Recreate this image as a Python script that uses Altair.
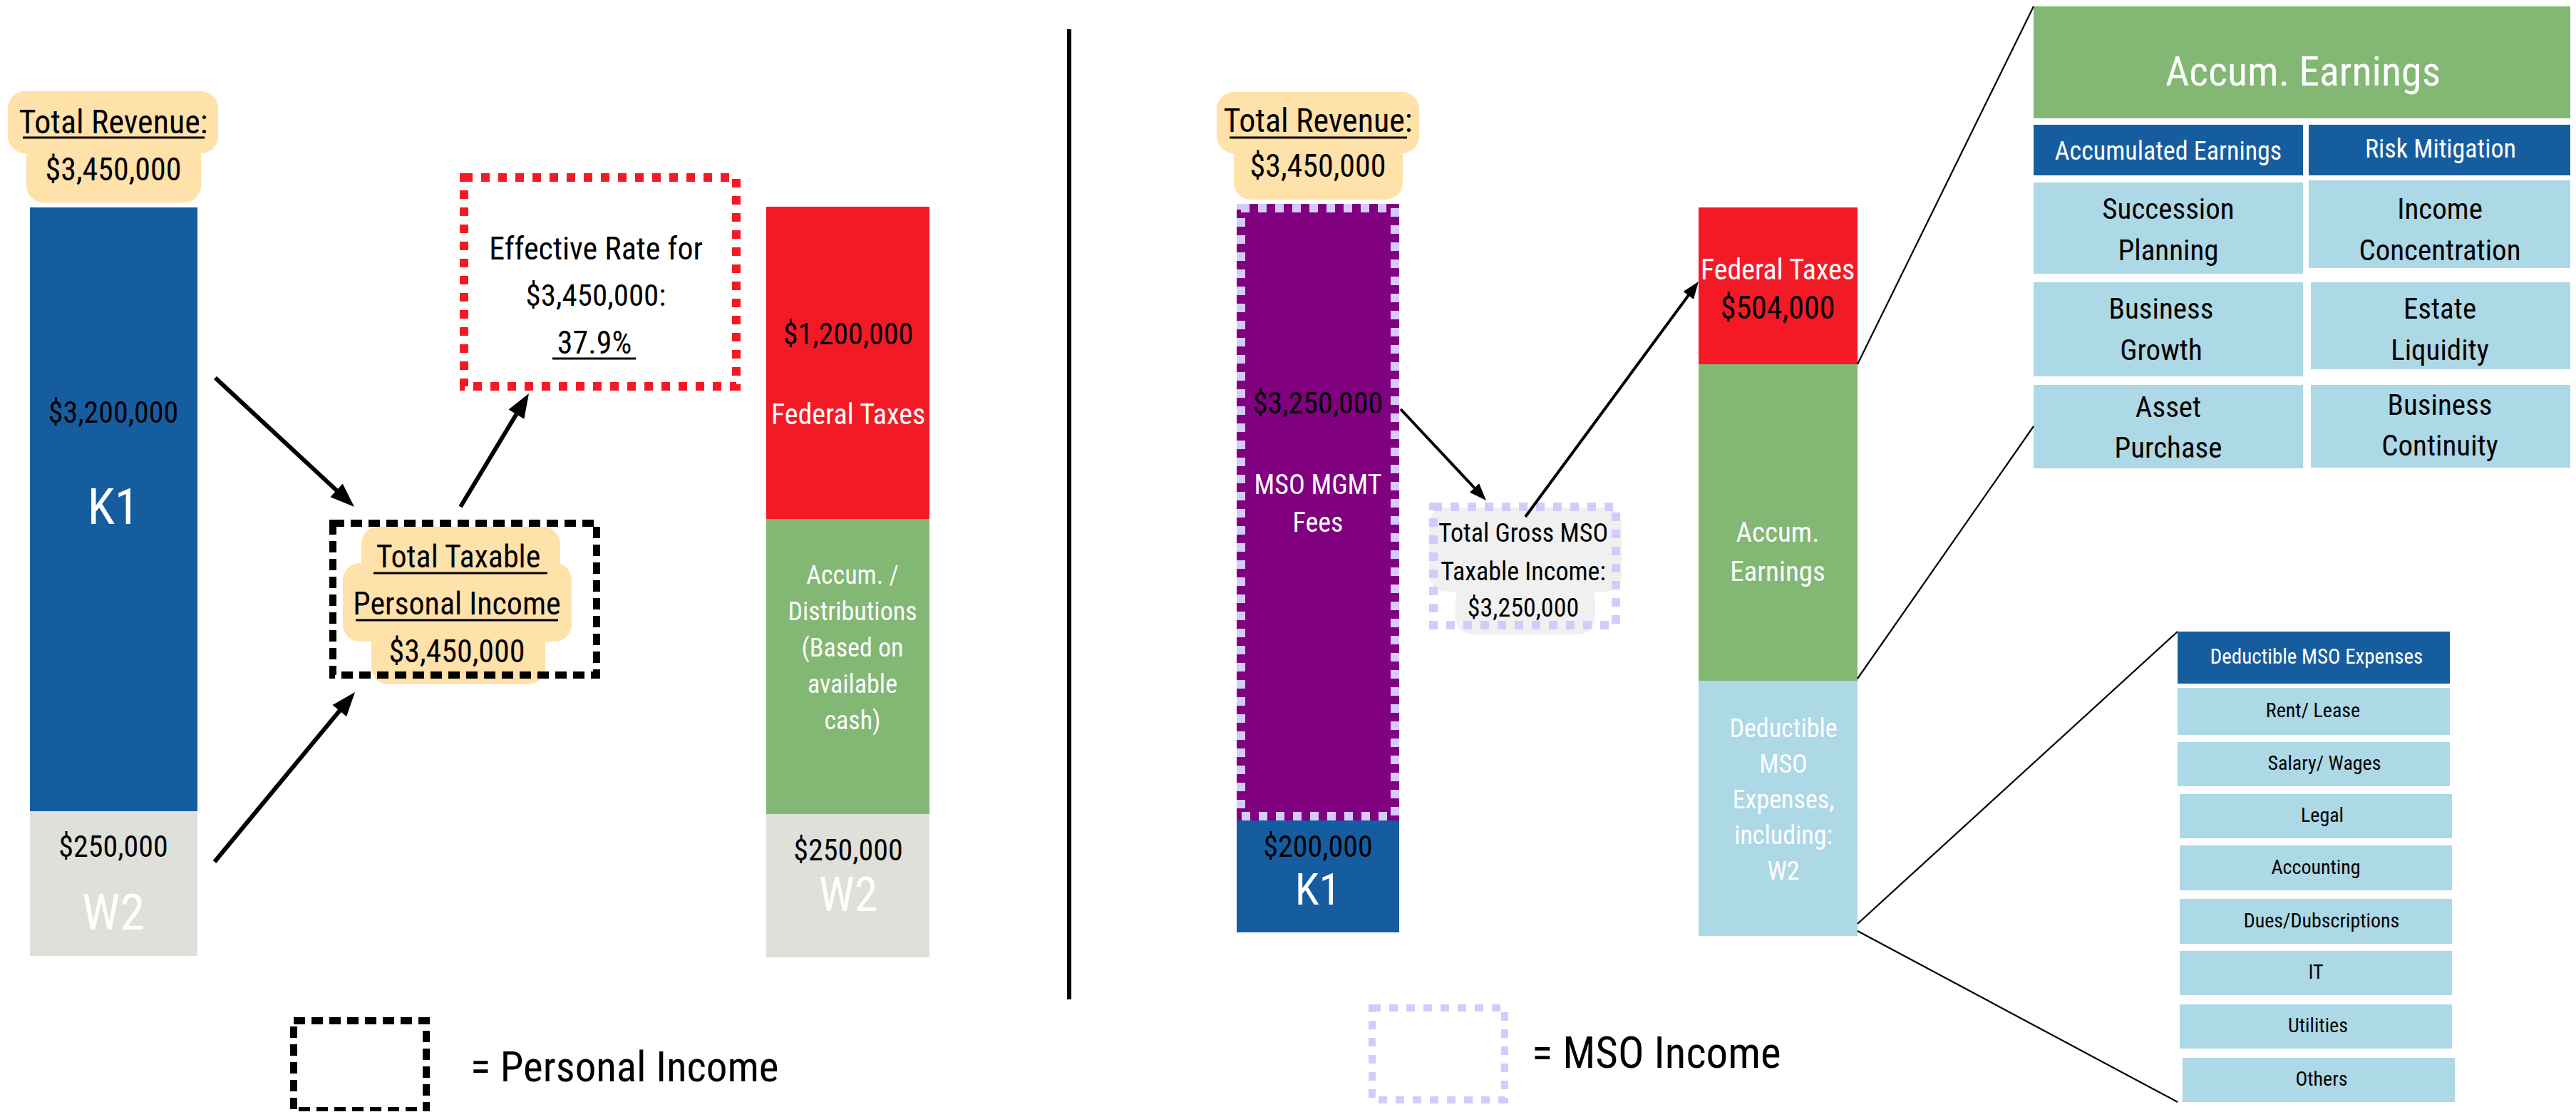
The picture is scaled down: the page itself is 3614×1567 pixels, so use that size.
import math
import altair as alt
import pandas as pd

# ---------------- values ----------------
total_revenue = 3450000
personal_labels = ["K1", "W2"]
personal_values = [3200000, 250000]
personal_tax = 1200000
personal_w2_out = 250000
effective_rate = 37.9
accum_dist_lines = ["Accum. /", "Distributions", "(Based on", "available", "cash)"]
mso_labels = ["MSO MGMT", "Fees", "K1"]
mso_values = [3250000, 200000]
mso_tax = 504000
mso_accum_lines = ["Accum.", "Earnings"]
mso_deduct_lines = ["Deductible", "MSO", "Expenses,", "including:", "W2"]
accum_title = "Accum. Earnings"
accum_headers = ["Accumulated Earnings", "Risk Mitigation"]
accum_left = [["Succession", "Planning"], ["Business", "Growth"], ["Asset", "Purchase"]]
accum_right = [["Income", "Concentration"], ["Estate", "Liquidity"], ["Business", "Continuity"]]
expense_title = "Deductible MSO Expenses"
expense_items = ["Rent/ Lease", "Salary/ Wages", "Legal", "Accounting",
                 "Dues/Dubscriptions", "IT", "Utilities", "Others"]
legend_labels = ["= Personal Income", "= MSO Income"]


def money(v):
    return "${:,}".format(v)


# ---------------- styles ----------------
FONT = "Liberation Sans Narrow, Arial Narrow, Roboto Condensed, sans-serif"
BLUE = "#165DA0"
RED = "#F31A26"
GREEN = "#82B774"
GRAY = "#E0E0DA"
PURPLE = "#800080"
LAV = "#D4CBFD"
LBLUE = "#ADD8E6"
TAN = "#FFE1AA"
BOXGRAY = "#F0F0F0"
W = "white"
K = "black"
NUM = 42  # size of the dollar figures

# ---------------- layout (pixel frame of the picture) ----------------
rects = [
    (42, 291, 277, 1138, BLUE), (42, 1138, 277, 1341, GRAY),
    (1075, 290, 1304, 728, RED), (1075, 728, 1304, 1142, GREEN), (1075, 1142, 1304, 1343, GRAY),
    (1735, 286, 1963, 1151, PURPLE), (1735, 1151, 1963, 1308, BLUE),
    (2383, 291, 2606, 511, RED), (2383, 511, 2606, 955, GREEN), (2383, 955, 2606, 1313, LBLUE),
    (2853, 9, 3609, 166, GREEN),
    (2853, 175, 3231, 246, BLUE), (3239, 175, 3609, 246, BLUE),
    (2853, 256, 3231, 384, LBLUE), (3239, 253, 3609, 376, LBLUE),
    (2853, 396, 3231, 528, LBLUE), (3242, 396, 3613, 518, LBLUE),
    (2853, 540, 3231, 657, LBLUE), (3242, 540, 3613, 656, LBLUE),
    (3055, 886, 3437, 959, BLUE),
]
exp_rows = [(3055, 965, 3437, 1031), (3055, 1041, 3437, 1103), (3058, 1114, 3440, 1176),
            (3058, 1186, 3440, 1249), (3058, 1261, 3440, 1324), (3058, 1334, 3440, 1396),
            (3058, 1409, 3440, 1471), (3062, 1484, 3444, 1546)]
for r in exp_rows:
    rects.append(r + (LBLUE,))

rounded = [
    (11, 128, 306, 215, TAN), (37, 195, 282, 284, TAN),
    (507, 739, 786, 815, TAN), (481, 790, 802, 900, TAN), (521, 880, 765, 960, TAN),
    (1707, 129, 1991, 215, TAN), (1731, 195, 1968, 280, TAN),
    (2005, 712, 2275, 830, BOXGRAY), (2042, 815, 2238, 890, BOXGRAY),
]

dashed = [
    (651, 249, 1033, 542, RED, 12),
    (467, 734, 837, 947, K, 10),
    (412, 1432, 598, 1558, K, 10),
    (1741, 292, 1957, 1145, LAV, 12),
    (2011, 711, 2267, 877, LAV, 12),
    (1925, 1414, 2111, 1543, LAV, 10),
]

texts = [
    ("Total Revenue:", 159, 173, 46, K), (money(total_revenue), 159, 240, 44, K),
    (money(personal_values[0]), 159, 580, NUM, K), (personal_labels[0], 159, 714, 70, W),
    (money(personal_values[1]), 159, 1189, NUM, K), (personal_labels[1], 159, 1283, 70, W),
    ("Effective Rate for", 836, 351, 44, K), (money(total_revenue) + ":", 836, 416, 43, K),
    ("{}%".format(effective_rate), 834, 483, 44, K),
    ("Total Taxable ", 643, 783, 44, K), ("Personal Income", 641, 849, 44, K),
    (money(total_revenue), 641, 916, 44, K),
    (money(personal_tax), 1190, 470, NUM, K), ("Federal Taxes", 1190, 583, 40, W),
    (money(personal_w2_out), 1190, 1194, NUM, K), ("W2", 1190, 1258, 66, W),
    ("Total Revenue:", 1849, 171, 46, K), (money(total_revenue), 1849, 235, 44, K),
    (money(mso_values[0]), 1849, 567, NUM, K), (mso_labels[0], 1849, 682, 38, W),
    (mso_labels[1], 1849, 735, 38, W),
    (money(mso_values[1]), 1849, 1189, NUM, K), (mso_labels[2], 1849, 1250, 62, W),
    ("Total Gross MSO", 2137, 749, 36, K), ("Taxable Income:", 2137, 803, 36, K),
    (money(mso_values[0]), 2137, 854, 36, K),
    ("Federal Taxes", 2494, 380, 40, W), (money(mso_tax), 2494, 434, 44, K),
    (accum_title, 3231, 103, 58, W),
    (accum_headers[0], 3042, 213, 36, W), (accum_headers[1], 3424, 210, 36, W),
]
for i, ln in enumerate(accum_dist_lines):
    texts.append((ln, 1196, 808 + i * 51, 36, W))
for i, ln in enumerate(mso_accum_lines):
    texts.append((ln, 2494, 748 + i * 55, 39, W))
for i, ln in enumerate(mso_deduct_lines):
    texts.append((ln, 2502, 1023 + i * 50, 36, W))
row_y = [(295, 353), (435, 493), (573, 630)]
row_y_r = [(295, 353), (435, 493), (570, 627)]
left_x = [3042, 3032, 3042]
for i, pair in enumerate(accum_left):
    texts.append((pair[0], left_x[i], row_y[i][0], 41, K))
    texts.append((pair[1], left_x[i], row_y[i][1], 41, K))
for i, pair in enumerate(accum_right):
    texts.append((pair[0], 3423, row_y_r[i][0], 41, K))
    texts.append((pair[1], 3423, row_y_r[i][1], 41, K))
texts.append((expense_title, 3250, 922, 29, W))
exp_x = [3245, 3261, 3258, 3249, 3257, 3249, 3252, 3257]
for i, item in enumerate(expense_items):
    r = exp_rows[i]
    texts.append((item, exp_x[i], (r[1] + r[3]) / 2, 28, K))

legend_texts = [(legend_labels[0], 660, 1499, 59, K), (legend_labels[1], 2149, 1480, 61, K)]

underlines = [(32, 287, 193), (1725, 1974, 193), (775, 892, 503), (524, 768, 804), (499, 783, 870)]

arrows = [
    (302, 530, 497, 711, 6, 34),
    (301, 1209, 498, 971, 6, 34),
    (646, 711, 742, 552, 6, 34),
    (1965, 574, 2085, 702, 4, 24),
    (2140, 725, 2383, 395, 4, 24),
]
thin = [(2606, 511, 2853, 9), (2606, 952, 2853, 598), (2606, 1296, 3055, 886), (2606, 1306, 3055, 1546)]

# ---------------- build tables ----------------
rect_df = pd.DataFrame(rects, columns=["x", "y", "x2", "y2", "fill"])
round_df = pd.DataFrame(rounded, columns=["x", "y", "x2", "y2", "fill"])
dash_df = pd.DataFrame(dashed, columns=["x", "y", "x2", "y2", "stroke", "sw"])
text_df = pd.DataFrame(texts, columns=["t", "x", "y", "s", "c"])
leg_df = pd.DataFrame(legend_texts, columns=["t", "x", "y", "s", "c"])
ul_df = pd.DataFrame(underlines, columns=["x", "x2", "y"])
thin_df = pd.DataFrame(thin, columns=["x", "y", "x2", "y2"])

shaft, heads = [], []
for x1, y1, x2, y2, w, hl in arrows:
    dx, dy = x2 - x1, y2 - y1
    L = math.hypot(dx, dy)
    ux, uy = dx / L, dy / L
    shaft.append((x1, y1, x2 - ux * hl * 0.6, y2 - uy * hl * 0.6, w))
    ang = math.degrees(math.atan2(dx, -dy)) % 360
    heads.append((x2 - ux * hl / 2, y2 - uy * hl / 2, ang, hl * hl))
shaft_df = pd.DataFrame(shaft, columns=["x", "y", "x2", "y2", "w"])
head_df = pd.DataFrame(heads, columns=["x", "y", "ang", "size"])

WID, HEI = 3598, 1551
xs = alt.Scale(domain=[8, 8 + WID], range=[0, WID], nice=False, zero=False)
ys = alt.Scale(domain=[8, 8 + HEI], range=[0, HEI], nice=False, zero=False)


def X(f):
    return alt.X(f, type="quantitative", scale=xs, axis=None)


def Y(f):
    return alt.Y(f, type="quantitative", scale=ys, axis=None)


def X2(f):
    return alt.X2(f)


def Y2(f):
    return alt.Y2(f)


layers = []
layers.append(alt.Chart(rect_df).mark_rect().encode(
    x=X("x"), x2=X2("x2"), y=Y("y"), y2=Y2("y2"), color=alt.Color("fill:N", scale=None)))
layers.append(alt.Chart(round_df).mark_rect(cornerRadius=24).encode(
    x=X("x"), x2=X2("x2"), y=Y("y"), y2=Y2("y2"), color=alt.Color("fill:N", scale=None)))
for col, dash in [(RED, [12, 12]), (K, [16, 9]), (LAV, [12, 12])]:
    sub = dash_df[dash_df["stroke"] == col]
    layers.append(alt.Chart(sub).mark_rect(fill=None, fillOpacity=0, stroke=col, strokeDash=dash).encode(
        x=X("x"), x2=X2("x2"), y=Y("y"), y2=Y2("y2"),
        strokeWidth=alt.StrokeWidth("sw:Q", scale=None)))
layers.append(alt.Chart(ul_df).mark_rule(color=K, strokeWidth=3).encode(
    x=X("x"), x2=X2("x2"), y=Y("y")))
layers.append(alt.Chart(thin_df).mark_rule(color=K, strokeWidth=2.2).encode(
    x=X("x"), x2=X2("x2"), y=Y("y"), y2=Y2("y2")))
layers.append(alt.Chart(shaft_df).mark_rule(color=K).encode(
    x=X("x"), x2=X2("x2"), y=Y("y"), y2=Y2("y2"),
    strokeWidth=alt.StrokeWidth("w:Q", scale=None)))
layers.append(alt.Chart(head_df).mark_point(
    shape="M0,-1L0.75,1L-0.75,1Z", filled=True, opacity=1, color=K, strokeWidth=0).encode(
    x=X("x"), y=Y("y"), angle=alt.Angle("ang:Q", scale=None),
    size=alt.Size("size:Q", scale=None)))
layers.append(alt.Chart(pd.DataFrame({"x": [1500], "y": [41], "y2": [1402]})).mark_rule(
    color=K, strokeWidth=6).encode(x=X("x"), y=Y("y"), y2=Y2("y2")))
layers.append(alt.Chart(text_df).mark_text(font=FONT, align="center", baseline="middle").encode(
    x=X("x"), y=Y("y"), text="t:N", size=alt.Size("s:Q", scale=None),
    color=alt.Color("c:N", scale=None)))
layers.append(alt.Chart(leg_df).mark_text(font=FONT, align="left", baseline="middle").encode(
    x=X("x"), y=Y("y"), text="t:N", size=alt.Size("s:Q", scale=None),
    color=alt.Color("c:N", scale=None)))

chart = alt.layer(*layers).properties(
    width=WID, height=HEI, padding=0, autosize="none", background="white"
).configure_view(stroke=None)

chart.save("out.html", embed_options={"renderer": "svg", "actions": False})
